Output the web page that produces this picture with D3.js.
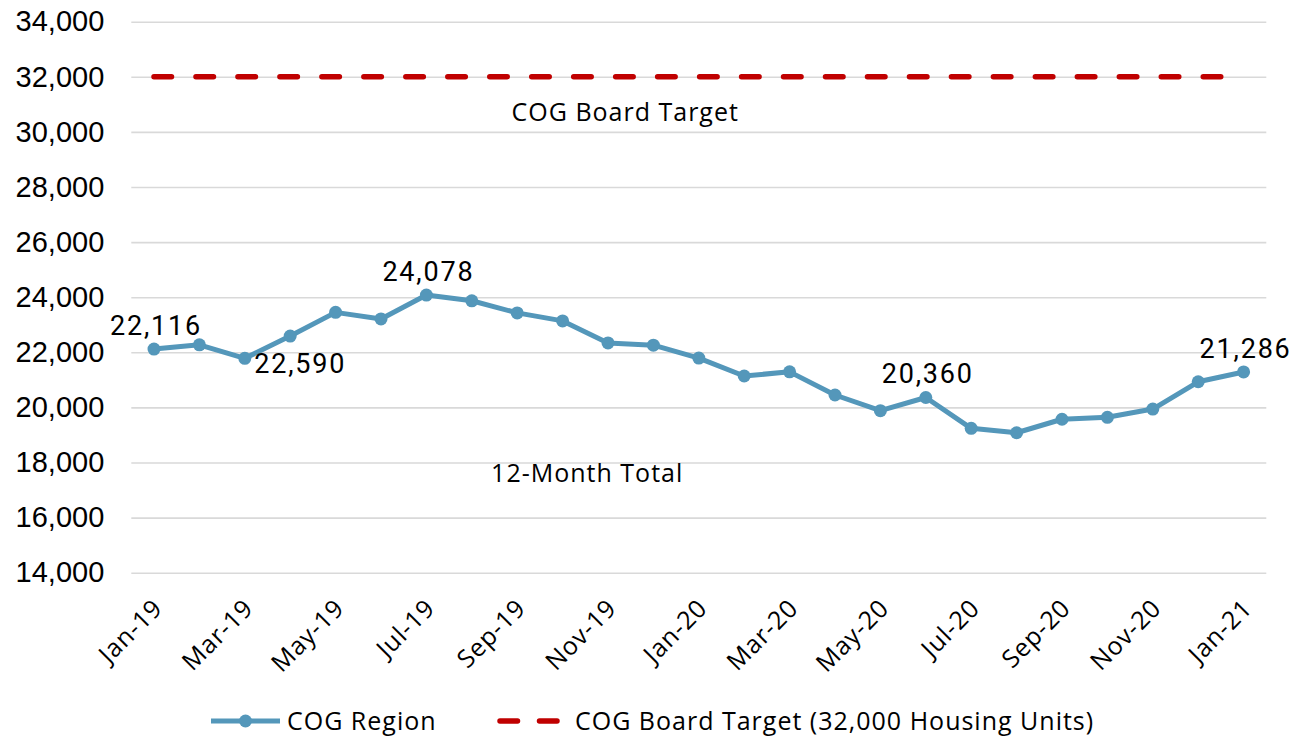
<!DOCTYPE html>
<html>
<head>
<meta charset="utf-8">
<script src="https://cdn.jsdelivr.net/npm/d3@7"></script>
<style>
  body { margin: 0; background: #fff; }
  text { fill: #000; }
</style>
</head>
<body>
<div id="chart"></div>
<script>
// Data
const months = ['Jan-19', 'Feb-19', 'Mar-19', 'Apr-19', 'May-19', 'Jun-19', 'Jul-19', 'Aug-19', 'Sep-19',
  'Oct-19', 'Nov-19', 'Dec-19', 'Jan-20', 'Feb-20', 'Mar-20', 'Apr-20', 'May-20', 'Jun-20', 'Jul-20',
  'Aug-20', 'Sep-20', 'Oct-20', 'Nov-20', 'Dec-20', 'Jan-21'];
const cogRegion = [22116, 22270, 21780, 22590, 23450, 23210, 24078, 23870, 23430, 23140, 22340, 22260,
  21790, 21140, 21290, 20450, 19880, 20360, 19240, 19080, 19570, 19640, 19940, 20930, 21286];
const boardTarget = 32000;
const yTicks = [14000, 16000, 18000, 20000, 22000, 24000, 26000, 28000, 30000, 32000, 34000];
const tickLabels = months.filter((d, i) => i % 2 === 0);
// data labels shown on the line: month index, text, side
const pointLabels = [
  { i: 0, text: '22,116', side: 'above' },
  { i: 3, text: '22,590', side: 'below' },
  { i: 6, text: '24,078', side: 'above' },
  { i: 17, text: '20,360', side: 'above' },
  { i: 24, text: '21,286', side: 'above' }
];

const W = 1291, H = 737;
const margin = { top: 21.7, right: 24.7, bottom: 164.3, left: 131.3 },
  width = W - margin.left - margin.right,
  height = H - margin.top - margin.bottom;

const blue = '#5497BA', red = '#C00000';

const svg = d3.select('#chart')
  .append('svg')
  .attr('width', W)
  .attr('height', H)
  .append('g')
  .attr('transform', `translate(${margin.left}, ${margin.top})`);

const x = d3.scaleBand().domain(months).range([0, width]).padding(0);
const cx = (m) => x(m) + x.bandwidth() / 2;
const y = d3.scaleLinear().domain([14000, 34000]).range([height, 0]);

// Gridlines + y labels
const yAxis = svg.append('g')
  .call(d3.axisLeft(y).tickValues(yTicks).tickSize(-width).tickFormat(d3.format(',')).tickPadding(27));
yAxis.select('.domain').remove();
yAxis.selectAll('.tick line').attr('stroke', '#d9d9d9').attr('stroke-width', 1.6);
yAxis.selectAll('.tick text')
  .attr('font-family', '"Liberation Sans", Arial, sans-serif')
  .attr('font-size', 29)
  .attr('fill', '#000');

// X labels, rotated
const xAxis = svg.append('g')
  .attr('transform', `translate(0, ${height})`)
  .call(d3.axisBottom(x).tickValues(tickLabels).tickSize(0));
xAxis.select('.domain').remove();
xAxis.selectAll('.tick text')
  .attr('font-family', '"Open Sans", "Noto Sans", sans-serif')
  .attr('font-size', 25)
  .attr('letter-spacing', 0.8)
  .attr('fill', '#000')
  .attr('text-anchor', 'end')
  .attr('y', 0)
  .attr('dy', 0)
  .attr('transform', 'translate(10, 37) rotate(-45)');

// Board target dashed line
svg.append('line')
  .attr('x1', cx(months[0]))
  .attr('x2', cx(months[months.length - 1]))
  .attr('y1', y(boardTarget))
  .attr('y2', y(boardTarget))
  .attr('stroke', red)
  .attr('stroke-width', 5.5)
  .attr('stroke-linecap', 'round')
  .attr('stroke-dasharray', '17.5,24.47');

// COG Region line
const line = d3.line()
  .x((d, i) => cx(months[i]))
  .y((d) => y(d));

svg.append('path')
  .datum(cogRegion)
  .attr('fill', 'none')
  .attr('stroke', blue)
  .attr('stroke-width', 5)
  .attr('stroke-linejoin', 'round')
  .attr('d', line);

svg.selectAll('.dot')
  .data(cogRegion)
  .join('circle')
  .attr('class', 'dot')
  .attr('cx', (d, i) => cx(months[i]))
  .attr('cy', (d) => y(d))
  .attr('r', 6.5)
  .attr('fill', blue);

// Data labels
svg.selectAll('.plabel')
  .data(pointLabels)
  .join('text')
  .attr('class', 'plabel')
  .attr('x', (d) => cx(months[d.i]) + (d.side === 'below' ? 10 : 2))
  .attr('y', (d) => y(cogRegion[d.i]) + (d.side === 'below' ? 37 : -14))
  .attr('text-anchor', 'middle')
  .attr('font-family', 'Roboto, sans-serif')
  .attr('font-size', 27)
  .attr('letter-spacing', 1.8)
  .text((d) => d.text);

// Series annotations
const noteFont = '"Open Sans", "Noto Sans", sans-serif';
svg.append('text')
  .attr('x', cx('Sep-19') + 108)
  .attr('y', y(boardTarget) + 44)
  .attr('text-anchor', 'middle')
  .attr('font-family', noteFont)
  .attr('font-size', 25)
  .attr('letter-spacing', 1)
  .text('COG Board Target');

svg.append('text')
  .attr('x', cx('Sep-19') + 70)
  .attr('y', y(18000) + 20)
  .attr('text-anchor', 'middle')
  .attr('font-family', noteFont)
  .attr('font-size', 25)
  .attr('letter-spacing', 1)
  .text('12-Month Total');

// Legend
const legend = svg.append('g')
  .attr('transform', `translate(${-margin.left}, ${H - margin.top - 16})`);

legend.append('line')
  .attr('x1', 211).attr('x2', 280).attr('y1', 0).attr('y2', 0)
  .attr('stroke', blue).attr('stroke-width', 5);
legend.append('circle')
  .attr('cx', 245.5).attr('cy', 0).attr('r', 6.5).attr('fill', blue);
legend.append('text')
  .attr('x', 287).attr('y', 0).attr('dy', '0.35em')
  .attr('font-family', noteFont).attr('font-size', 25).attr('letter-spacing', 1)
  .text('COG Region');

legend.append('line')
  .attr('x1', 500).attr('x2', 560).attr('y1', 0).attr('y2', 0)
  .attr('stroke', red).attr('stroke-width', 5.5)
  .attr('stroke-linecap', 'round')
  .attr('stroke-dasharray', '17.5,22');
legend.append('text')
  .attr('x', 575).attr('y', 0).attr('dy', '0.35em')
  .attr('font-family', noteFont).attr('font-size', 25).attr('letter-spacing', 1)
  .text('COG Board Target (32,000 Housing Units)');
</script>
</body>
</html>
